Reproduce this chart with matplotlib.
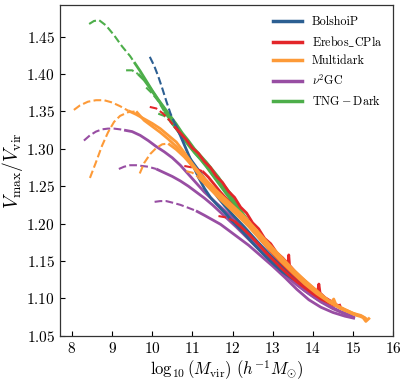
# Vmax/Vvir against halo mass for several simulations.
import numpy as np
import matplotlib
matplotlib.use('Agg')
import matplotlib.pyplot as plt

# Computer Modern look.
plt.rcParams['font.family'] = 'serif'
plt.rcParams['font.serif'] = ['cmr10']
plt.rcParams['mathtext.fontset'] = 'cm'
plt.rcParams['axes.formatter.use_mathtext'] = True

# Each curve: x = log10(Mvir), y = Vmax/Vvir, cut = where dashed turns solid.
# BolshoiP
bolshoip_1_x = [9.94, 10.05, 10.15, 10.25, 10.35, 10.45, 10.56, 10.7, 10.85, 11.0,
                11.15, 11.3, 11.45, 11.6, 11.8, 12.0, 12.25, 12.5, 12.75, 13.0,
                13.25, 13.5, 13.7, 13.8, 13.85, 13.9, 14.0, 14.15]
bolshoip_1_y = [1.423, 1.411, 1.397, 1.381, 1.364, 1.348, 1.334, 1.318, 1.299, 1.280,
                1.262, 1.247, 1.235, 1.226, 1.215, 1.203, 1.189, 1.174, 1.160, 1.147,
                1.135, 1.126, 1.121, 1.117, 1.120, 1.112, 1.108, 1.102]
bolshoip_1_cut = 10.56
bolshoip_2_x = [10.9, 11.05, 11.2, 11.35, 11.5, 11.65, 11.8, 12.0, 12.3, 12.6,
                12.9, 13.2, 13.5, 13.8, 14.1]
bolshoip_2_y = [1.290, 1.279, 1.268, 1.256, 1.245, 1.234, 1.224, 1.212, 1.195, 1.177,
                1.160, 1.144, 1.130, 1.117, 1.106]
bolshoip_2_cut = 10.9

# Erebos_CPla
erebos_1_x = [9.94, 10.1, 10.25, 10.4, 10.55, 10.7, 10.85, 11.0, 11.15, 11.3,
              11.45, 11.6, 11.75, 11.9, 12.05, 12.2, 12.35, 12.5, 12.65, 12.8,
              12.95, 13.1, 13.25, 13.38, 13.4, 13.42, 13.55, 13.7, 13.85, 14.0,
              14.12, 14.15, 14.18, 14.3, 14.45, 14.6, 14.7]
erebos_1_y = [1.356, 1.354, 1.348, 1.340, 1.330, 1.321, 1.312, 1.301, 1.294, 1.283,
              1.275, 1.263, 1.255, 1.243, 1.235, 1.222, 1.214, 1.201, 1.193, 1.180,
              1.173, 1.161, 1.154, 1.146, 1.158, 1.144, 1.136, 1.128, 1.121, 1.114,
              1.109, 1.119, 1.107, 1.101, 1.096, 1.091, 1.089]
erebos_1_cut = 10.55
erebos_2_x = [10.8, 11.0, 11.25, 11.4, 11.55, 11.7, 11.85, 12.0, 12.2, 12.4,
              12.6, 12.8, 13.0, 13.2, 13.4, 13.6, 13.8, 14.0, 14.2, 14.4, 14.55]
erebos_2_y = [1.277, 1.275, 1.270, 1.262, 1.252, 1.242, 1.233, 1.224, 1.211, 1.198,
              1.185, 1.172, 1.160, 1.148, 1.137, 1.127, 1.118, 1.109, 1.101, 1.094, 1.090]
erebos_2_cut = 11.25
erebos_3_x = [11.65, 11.85, 12.05, 12.2, 12.4, 12.6, 12.8, 13.0, 13.2, 13.4,
              13.6, 13.8, 14.0, 14.2, 14.4, 14.55, 14.6, 14.7]
erebos_3_y = [1.210, 1.208, 1.203, 1.196, 1.186, 1.175, 1.163, 1.152, 1.141, 1.131,
              1.122, 1.114, 1.106, 1.099, 1.094, 1.091, 1.090, 1.091]
erebos_3_cut = 12.05

# Multidark
multidark_1_x = [8.05, 8.2, 8.4, 8.6, 8.8, 9.0, 9.2, 9.4, 9.6, 9.8,
                 10.0, 10.2, 10.4, 10.6, 10.8, 11.0, 11.2, 11.4, 11.6, 11.8,
                 12.0, 12.3, 12.6, 12.9, 13.2, 13.5, 13.8, 14.1, 14.4, 14.7,
                 15.0, 15.2, 15.3]
multidark_1_y = [1.352, 1.358, 1.363, 1.365, 1.365, 1.362, 1.357, 1.351, 1.346, 1.340,
                 1.334, 1.327, 1.318, 1.309, 1.295, 1.280, 1.266, 1.254, 1.243, 1.232,
                 1.222, 1.204, 1.186, 1.168, 1.150, 1.134, 1.119, 1.106, 1.095, 1.086,
                 1.079, 1.076, 1.074]
multidark_1_cut = 9.4
multidark_2_x = [8.45, 8.6, 8.75, 8.9, 9.05, 9.2, 9.4, 9.6, 9.8, 10.0,
                 10.2, 10.4, 10.6, 10.8, 11.0, 11.2, 11.4, 11.6, 11.8, 12.0,
                 12.3, 12.6, 12.9, 13.2, 13.5, 13.8, 14.1, 14.4, 14.7, 15.0,
                 15.2, 15.35]
multidark_2_y = [1.261, 1.282, 1.304, 1.322, 1.336, 1.344, 1.349, 1.350, 1.338, 1.330,
                 1.322, 1.313, 1.303, 1.291, 1.277, 1.263, 1.252, 1.241, 1.231, 1.221,
                 1.205, 1.188, 1.170, 1.152, 1.136, 1.121, 1.108, 1.096, 1.087, 1.080,
                 1.077, 1.072]
multidark_2_cut = 9.6
multidark_3_x = [9.69, 9.8, 9.95, 10.1, 10.25, 10.4, 10.6, 10.8, 11.0, 11.2,
                 11.4, 11.6, 11.8, 12.0, 12.3, 12.6, 12.9, 13.2, 13.5, 13.8,
                 14.1, 14.45, 14.52, 14.58, 14.8, 15.0, 15.25, 15.32, 15.42]
multidark_3_y = [1.267, 1.281, 1.293, 1.301, 1.306, 1.307, 1.299, 1.289, 1.277, 1.266,
                 1.255, 1.244, 1.234, 1.224, 1.209, 1.191, 1.173, 1.156, 1.139, 1.124,
                 1.110, 1.094, 1.099, 1.091, 1.085, 1.080, 1.074, 1.069, 1.074]
multidark_3_cut = 10.4
multidark_4_x = [10.85, 11.0, 11.15, 11.3, 11.5, 11.7, 11.9, 12.1, 12.4, 12.7,
                 13.0, 13.3, 13.6, 13.9, 14.2, 14.5, 14.8, 15.0, 15.15]
multidark_4_y = [1.270, 1.268, 1.262, 1.254, 1.243, 1.232, 1.222, 1.212, 1.196, 1.178,
                 1.161, 1.145, 1.130, 1.116, 1.104, 1.093, 1.084, 1.079, 1.076]
multidark_4_cut = 11.15

# nu^2GC
nu2gc_1_x = [8.3, 8.45, 8.6, 8.75, 8.9, 9.05, 9.2, 9.3, 9.5, 9.7,
             9.9, 10.1, 10.3, 10.5, 10.7, 10.9, 11.1, 11.3, 11.5, 11.75,
             12.0, 12.3, 12.6, 12.9, 13.2, 13.5, 13.8, 14.1, 14.4, 14.7, 15.0]
nu2gc_1_y = [1.311, 1.318, 1.323, 1.326, 1.327, 1.327, 1.326, 1.325, 1.323, 1.318,
             1.311, 1.303, 1.296, 1.288, 1.278, 1.266, 1.254, 1.242, 1.232, 1.220,
             1.208, 1.190, 1.172, 1.154, 1.138, 1.123, 1.110, 1.099, 1.090, 1.082, 1.076]
nu2gc_1_cut = 9.3
nu2gc_2_x = [9.17, 9.3, 9.45, 9.6, 9.75, 9.9, 10.1, 10.3, 10.5, 10.7,
             10.9, 11.1, 11.3, 11.5, 11.7, 11.9, 12.1, 12.4, 12.7, 13.0,
             13.3, 13.6, 13.9, 14.2, 14.5, 14.8, 15.05]
nu2gc_2_y = [1.273, 1.276, 1.278, 1.278, 1.277, 1.276, 1.273, 1.268, 1.263, 1.257,
             1.250, 1.242, 1.234, 1.225, 1.215, 1.205, 1.195, 1.179, 1.163, 1.147,
             1.132, 1.118, 1.106, 1.095, 1.086, 1.079, 1.074]
nu2gc_2_cut = 10.1
nu2gc_3_x = [10.06, 10.2, 10.35, 10.5, 10.7, 10.9, 11.09, 11.3, 11.5, 11.7,
             11.9, 12.1, 12.4, 12.7, 13.0, 13.3, 13.6, 13.9, 14.2, 14.5,
             14.8, 15.05]
nu2gc_3_y = [1.229, 1.230, 1.230, 1.228, 1.225, 1.221, 1.217, 1.211, 1.205, 1.199,
             1.191, 1.183, 1.171, 1.157, 1.143, 1.128, 1.112, 1.098, 1.088, 1.081,
             1.076, 1.073]
nu2gc_3_cut = 11.09

# TNG-Dark
tng_1_x = [8.43, 8.55, 8.68, 8.85, 9.05, 9.25, 9.45, 9.55, 9.7, 9.85,
           10.0, 10.15, 10.3, 10.45, 10.6, 10.75, 10.9, 11.05, 11.2, 11.35,
           11.5, 11.65, 11.8, 11.95, 12.1, 12.25, 12.4]
tng_1_y = [1.467, 1.471, 1.472, 1.465, 1.452, 1.437, 1.424, 1.416, 1.404, 1.391,
           1.378, 1.366, 1.355, 1.344, 1.333, 1.321, 1.311, 1.300, 1.291, 1.282,
           1.272, 1.262, 1.250, 1.240, 1.226, 1.214, 1.203]
tng_1_cut = 9.55
tng_2_x = [9.35, 9.5, 9.65, 9.8, 9.95, 10.1, 10.25, 10.4, 10.55, 10.7,
           10.85, 11.0, 11.15, 11.3, 11.45, 11.6, 11.75, 11.9, 12.05, 12.2]
tng_2_y = [1.405, 1.405, 1.400, 1.392, 1.381, 1.369, 1.357, 1.345, 1.334, 1.322,
           1.311, 1.300, 1.290, 1.281, 1.270, 1.259, 1.249, 1.238, 1.227, 1.216]
tng_2_cut = 9.65
tng_3_x = [9.85, 10.0, 10.15, 10.3, 10.45, 10.6, 10.75, 10.9, 11.05, 11.2,
           11.35, 11.5, 11.65, 11.8, 11.95, 12.1, 12.25, 12.4, 12.55]
tng_3_y = [1.382, 1.374, 1.364, 1.350, 1.339, 1.327, 1.316, 1.306, 1.296, 1.287,
           1.278, 1.266, 1.256, 1.245, 1.234, 1.222, 1.211, 1.199, 1.188]
tng_3_cut = 10.3
tng_4_x = [10.15, 10.3, 10.45, 10.6, 10.75, 10.9, 11.05, 11.2, 11.35, 11.5,
           11.65, 11.8, 11.95, 12.1, 12.25]
tng_4_y = [1.347, 1.344, 1.337, 1.327, 1.316, 1.305, 1.295, 1.286, 1.276, 1.265,
           1.254, 1.243, 1.232, 1.221, 1.209]
tng_4_cut = 10.45

colors = {'BolshoiP': '#2c5f92', 'Erebos': '#e3262a', 'Multidark': '#fd9a38',
          'nu2GC': '#984ea3', 'TNG': '#4dae4a'}


def draw(ax, x, y, cut, color):
    x = np.asarray(x)
    y = np.asarray(y)
    low = x <= cut
    high = x >= cut
    if low.sum() > 1:
        ax.plot(x[low], y[low], color=color, lw=1.5, ls='--')
    ax.plot(x[high], y[high], color=color, lw=2.0, solid_capstyle='butt')


fig = plt.figure(figsize=(4.07, 3.84), dpi=100)
ax = fig.add_axes([0.147, 0.125, 0.819, 0.862])

draw(ax, nu2gc_1_x, nu2gc_1_y, nu2gc_1_cut, colors['nu2GC'])
draw(ax, nu2gc_2_x, nu2gc_2_y, nu2gc_2_cut, colors['nu2GC'])
draw(ax, nu2gc_3_x, nu2gc_3_y, nu2gc_3_cut, colors['nu2GC'])
draw(ax, tng_1_x, tng_1_y, tng_1_cut, colors['TNG'])
draw(ax, tng_2_x, tng_2_y, tng_2_cut, colors['TNG'])
draw(ax, tng_3_x, tng_3_y, tng_3_cut, colors['TNG'])
draw(ax, tng_4_x, tng_4_y, tng_4_cut, colors['TNG'])
draw(ax, bolshoip_1_x, bolshoip_1_y, bolshoip_1_cut, colors['BolshoiP'])
draw(ax, bolshoip_2_x, bolshoip_2_y, bolshoip_2_cut, colors['BolshoiP'])
draw(ax, erebos_1_x, erebos_1_y, erebos_1_cut, colors['Erebos'])
draw(ax, erebos_2_x, erebos_2_y, erebos_2_cut, colors['Erebos'])
draw(ax, erebos_3_x, erebos_3_y, erebos_3_cut, colors['Erebos'])
draw(ax, multidark_1_x, multidark_1_y, multidark_1_cut, colors['Multidark'])
draw(ax, multidark_2_x, multidark_2_y, multidark_2_cut, colors['Multidark'])
draw(ax, multidark_3_x, multidark_3_y, multidark_3_cut, colors['Multidark'])
draw(ax, multidark_4_x, multidark_4_y, multidark_4_cut, colors['Multidark'])

# Legend handles only.
labels = ['BolshoiP', r'$\mathrm{Erebos\_CPla}$', 'Multidark', r'$\nu^2$GC',
          r'$\mathrm{TNG-Dark}$']
keys = ['BolshoiP', 'Erebos', 'Multidark', 'nu2GC', 'TNG']
handles = [plt.Line2D([], [], color=colors[k], lw=2.5) for k in keys]
ax.legend(handles, labels, loc='upper right', frameon=False, fontsize=8.7,
          handlelength=2.4, handletextpad=0.8, labelspacing=0.5,
          borderaxespad=0.5)

ax.set_xlim(7.7, 16)
ax.set_ylim(1.0495, 1.4924)
ax.set_xticks(np.arange(8, 17, 1))
ax.set_yticks([1.05, 1.10, 1.15, 1.20, 1.25, 1.30, 1.35, 1.40, 1.45])
ax.tick_params(direction='in', length=3.5, labelsize=11, top=False, right=False)
for s in ax.spines.values():
    s.set_color('#333333')
    s.set_linewidth(0.9)

ax.set_xlabel(r'$\log_{10}(M_{\rm vir})\ (h^{-1}M_{\odot})$', fontsize=12, labelpad=2)
ax.set_ylabel(r'$V_{\rm max}/V_{\rm vir}$', fontsize=14, labelpad=1)

fig.savefig('out.png', dpi=100)
